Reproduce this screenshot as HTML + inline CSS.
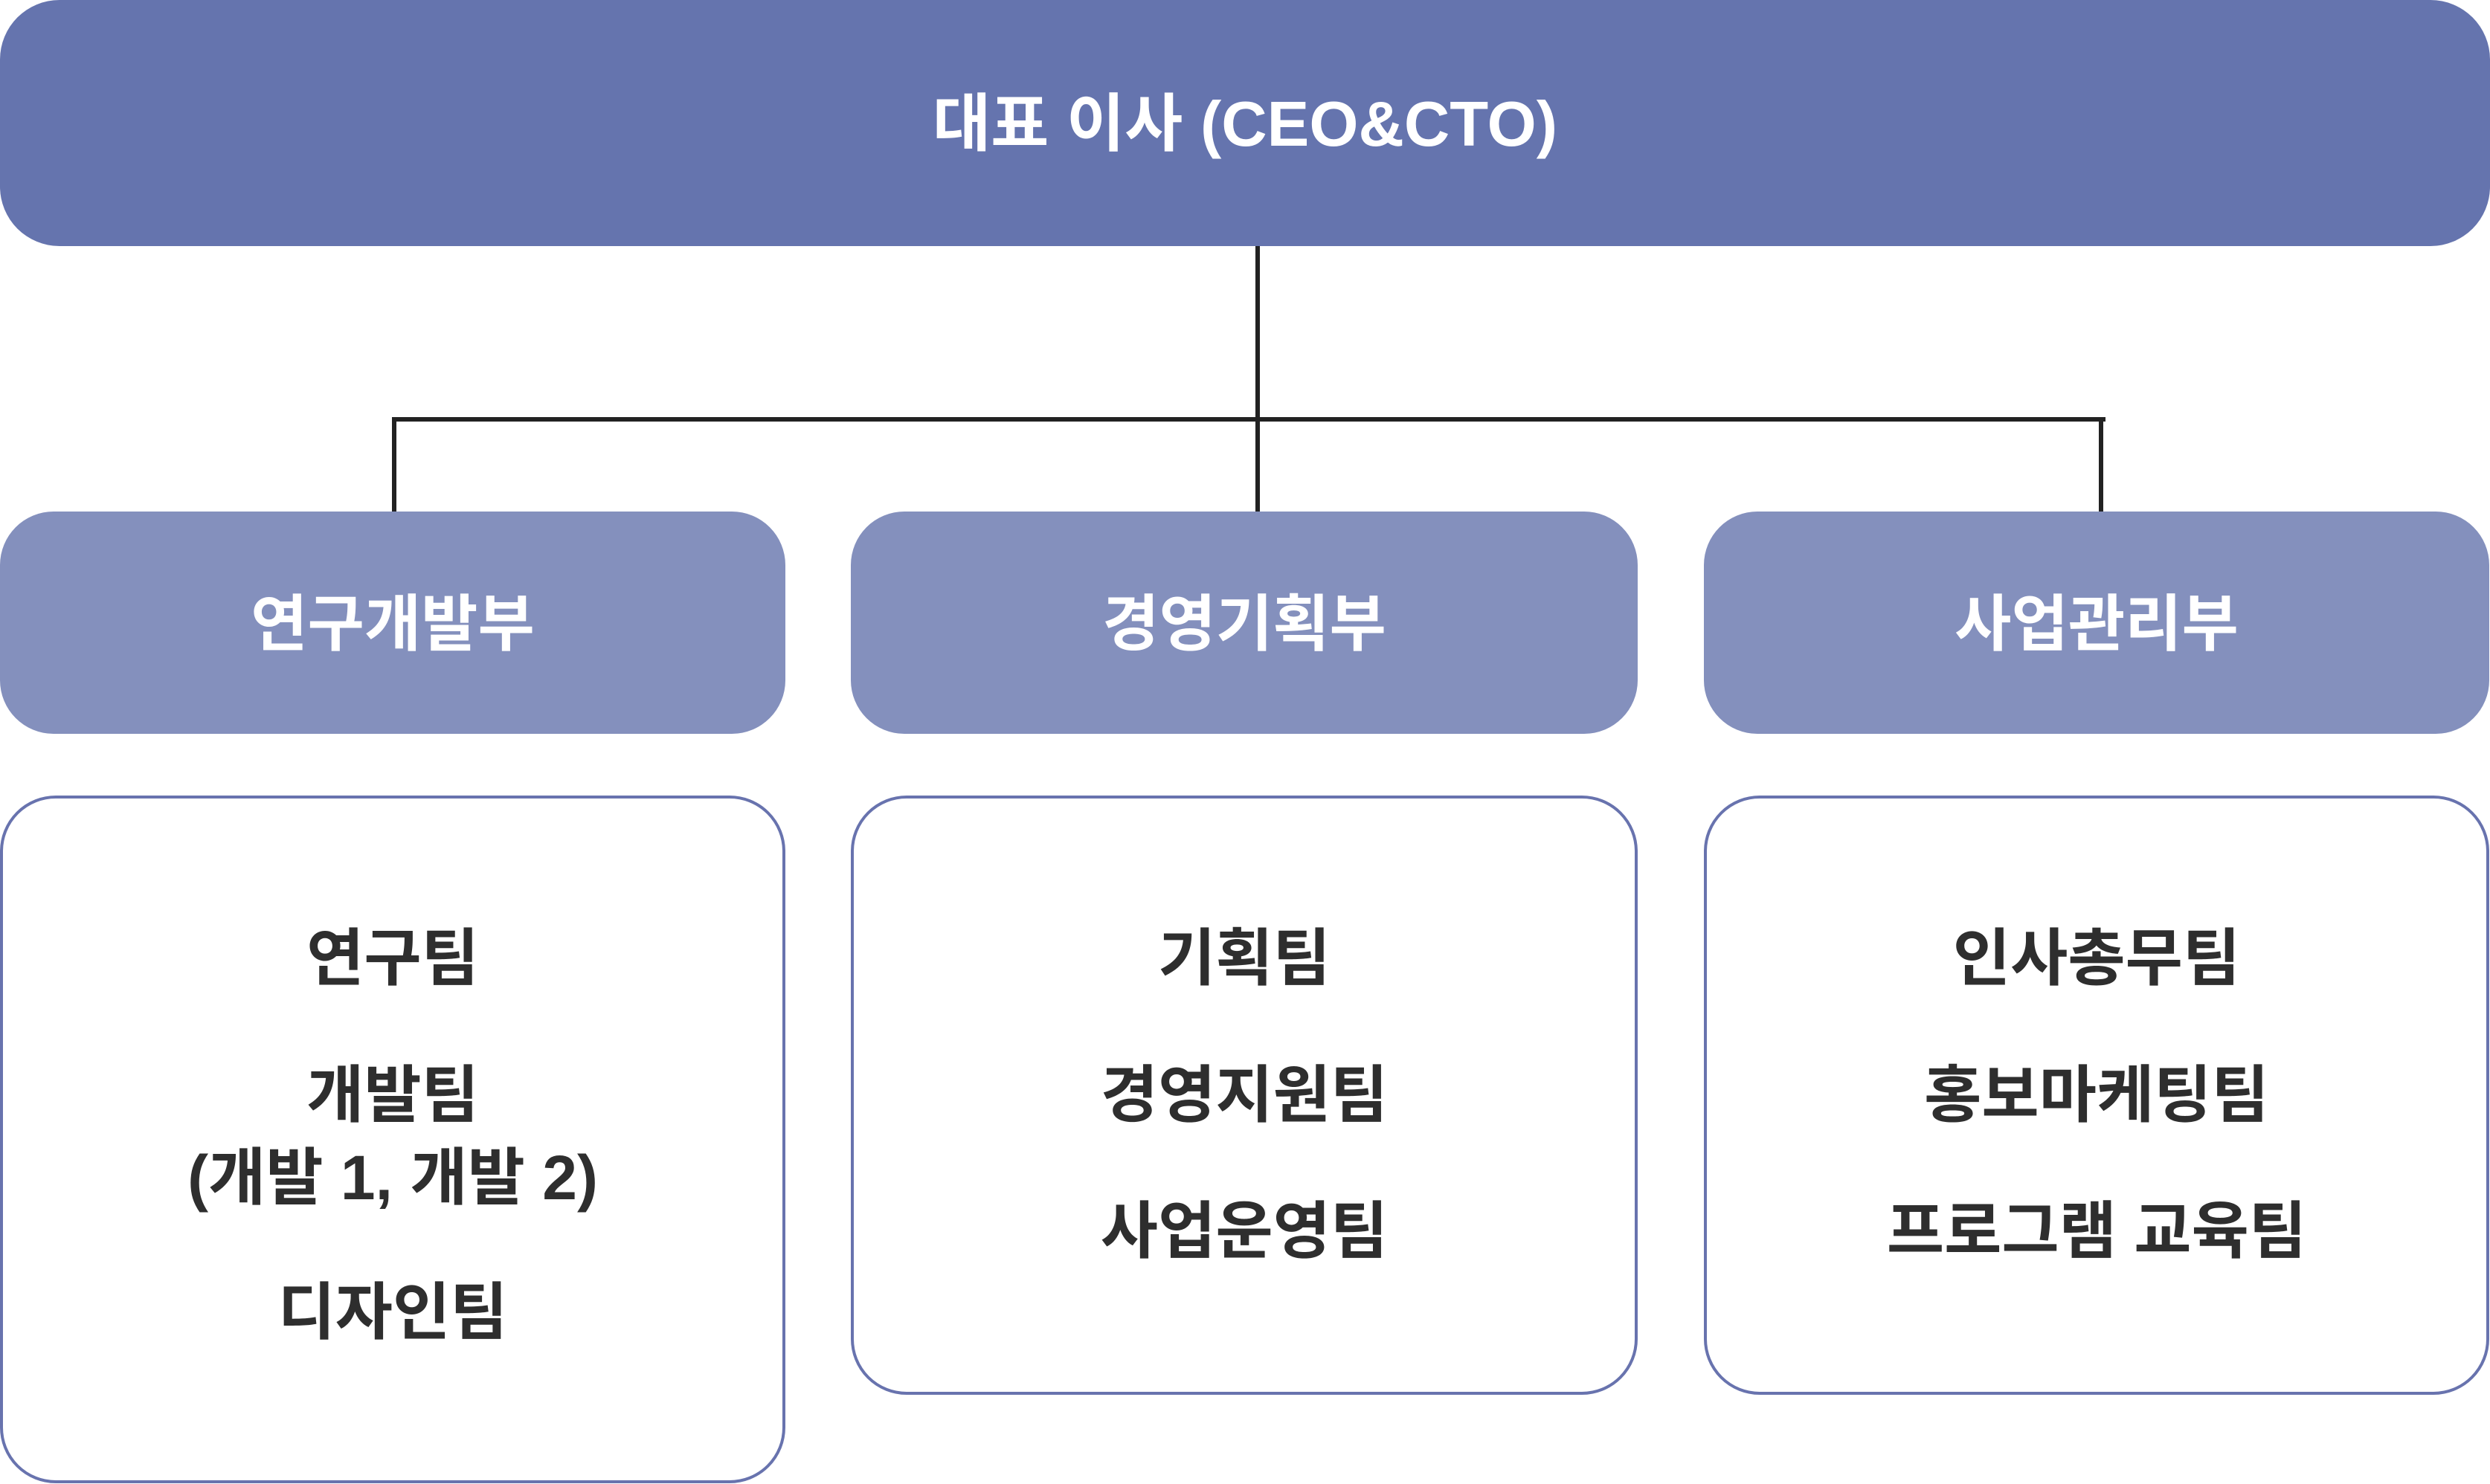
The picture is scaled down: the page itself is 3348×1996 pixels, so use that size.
<!DOCTYPE html>
<html><head><meta charset="utf-8"><style>
html,body{margin:0;padding:0;background:#fff;}
body{width:3348px;height:1996px;position:relative;overflow:hidden;font-family:"Liberation Sans","Noto Sans CJK KR",sans-serif;font-weight:bold;}
.b{position:absolute;box-sizing:border-box;}
.top{left:0;top:0;width:3348px;height:331px;background:#6574ae;border-radius:80px;color:#fff;font-size:85px;line-height:335px;text-align:center;}
.mid{top:688px;height:299px;background:#8490bd;border-radius:72px;color:#fff;font-size:83px;line-height:303px;text-align:center;}
.bot{top:1070px;border:4px solid #6873ae;border-radius:75px;background:#fff;}
.t{position:absolute;left:0;right:0;text-align:center;color:#2e2e2e;font-size:84px;line-height:100px;}
.ln{position:absolute;background:#222;}
</style></head><body>
<div class="b top">대표 이사 (CEO&amp;CTO)</div>
<div class="ln" style="left:1688px;top:331px;width:6px;height:357px"></div>
<div class="ln" style="left:527px;top:561px;width:2304px;height:6px"></div>
<div class="ln" style="left:527px;top:561px;width:6px;height:127px"></div>
<div class="ln" style="left:2822px;top:561px;width:6px;height:127px"></div>
<div class="b mid" style="left:0;width:1056px">연구개발부</div>
<div class="b mid" style="left:1144px;width:1058px">경영기획부</div>
<div class="b mid" style="left:2291px;width:1056px">사업관리부</div>
<div class="b bot" style="left:0;width:1056px;height:925px">
<div class="t" style="top:165px">연구팀</div>
<div class="t" style="top:349px">개발팀</div>
<div class="t" style="top:460px">(개발 1, 개발 2)</div>
<div class="t" style="top:641px">디자인팀</div>
</div>
<div class="b bot" style="left:1144px;width:1058px;height:806px">
<div class="t" style="top:165px">기획팀</div>
<div class="t" style="top:349px">경영지원팀</div>
<div class="t" style="top:532px">사업운영팀</div>
</div>
<div class="b bot" style="left:2291px;width:1056px;height:806px">
<div class="t" style="top:165px">인사총무팀</div>
<div class="t" style="top:349px">홍보마케팅팀</div>
<div class="t" style="top:532px">프로그램 교육팀</div>
</div>
</body></html>
